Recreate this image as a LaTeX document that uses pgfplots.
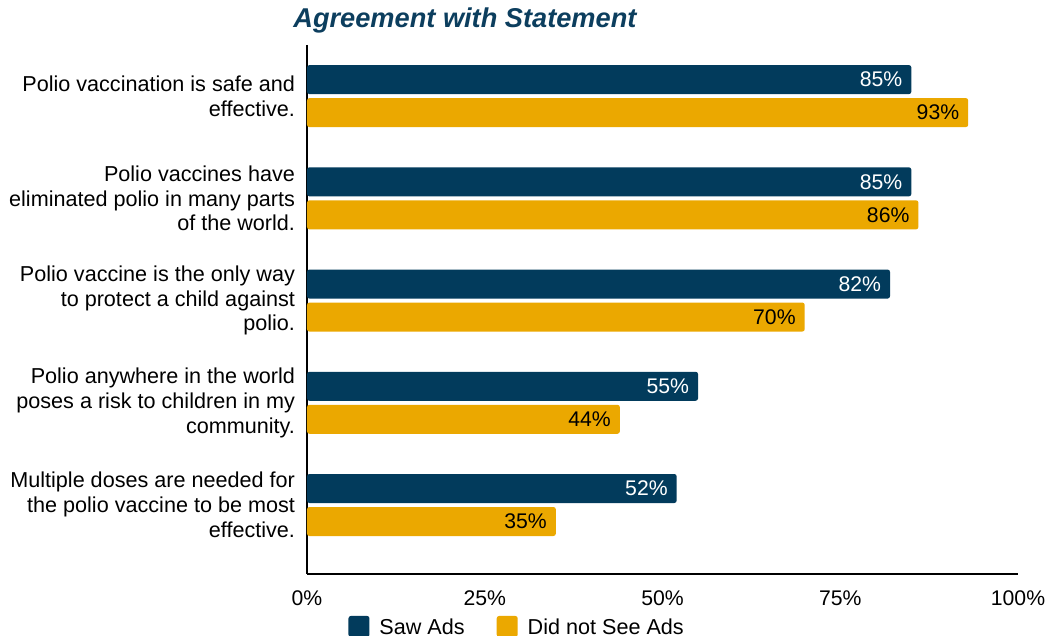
\documentclass[border=0pt]{standalone}
\usepackage{pgfplots}
\pgfplotsset{compat=1.18}
\usepackage{fontspec}
\setmainfont{Liberation Sans}
\definecolor{navy}{RGB}{2,59,92}
\definecolor{gold}{RGB}{235,168,0}
\definecolor{titleblue}{RGB}{12,62,94}

\begin{document}
\begin{tikzpicture}
\begin{axis}[
    scale only axis,
    width=355.5pt, height=264.5pt,
    at={(0,0)}, anchor=south west,
    xbar, bar width=14.5pt,
    xmin=0, xmax=100,
    ymin=-0.5, ymax=4.675, y dir=reverse,
    axis x line=bottom, axis y line=left,
    axis line style={-, black, line width=0.8pt},
    major tick length=0pt,
    /pgf/number format/assume math mode=true,
    xtick={0,25,50,75,100},
    xticklabel={\pgfmathprintnumber{\tick}\%},
    xticklabel style={font=\fontsize{10.6}{12}\selectfont, yshift=-5pt},
    ytick={0,1,2,3,4},
    yticklabels={
        {Polio vaccination is safe and\\effective.},
        {Polio vaccines have\\eliminated polio in many parts\\of the world.},
        {Polio vaccine is the only way\\to protect a child against\\polio.},
        {Polio anywhere in the world\\poses a risk to children in my\\community.},
        {Multiple doses are needed for\\the polio vaccine to be most\\effective.}
    },
    yticklabel style={align=right, font=\fontsize{10.8}{12.4}\selectfont, xshift=-2.5pt},
    point meta=x,
    nodes near coords={\pgfmathprintnumber{\pgfplotspointmeta}\%},
    nodes near coords style={anchor=east, xshift=-1pt, font=\fontsize{10.6}{12}\selectfont},
    legend style={draw=none, at={(0.297,-0.102)}, anchor=center,
        font=\fontsize{10.8}{12}\selectfont,
        /tikz/every odd column/.append style={column sep=3pt},
        /tikz/every even column/.append style={column sep=14pt}},
    legend columns=2,
    legend image code/.code={\fill[#1] (0pt,-4.5pt) rectangle (10.5pt,6pt);},
]
\addplot[fill=navy, draw=none, rounded corners=1.2pt, bar shift=8.25pt,
    nodes near coords style={text=white}]
    coordinates {(85,0) (85,1) (82,2) (55,3) (52,4)};
\addplot[fill=gold, draw=none, rounded corners=1.2pt, bar shift=-8.25pt,
    nodes near coords style={text=black}]
    coordinates {(93,0) (86,1) (70,2) (44,3) (35,4)};
\legend{Saw Ads, Did not See Ads}
\end{axis}
\node[anchor=west, text=titleblue, inner sep=0pt,
    font=\fontsize{13.6}{15}\bfseries\itshape\selectfont] at (-7pt,277pt) {Agreement with Statement};
\pgfresetboundingbox
\path[use as bounding box] (-153.5pt,-31pt) rectangle (370.5pt,287pt);
\end{tikzpicture}
\end{document}
